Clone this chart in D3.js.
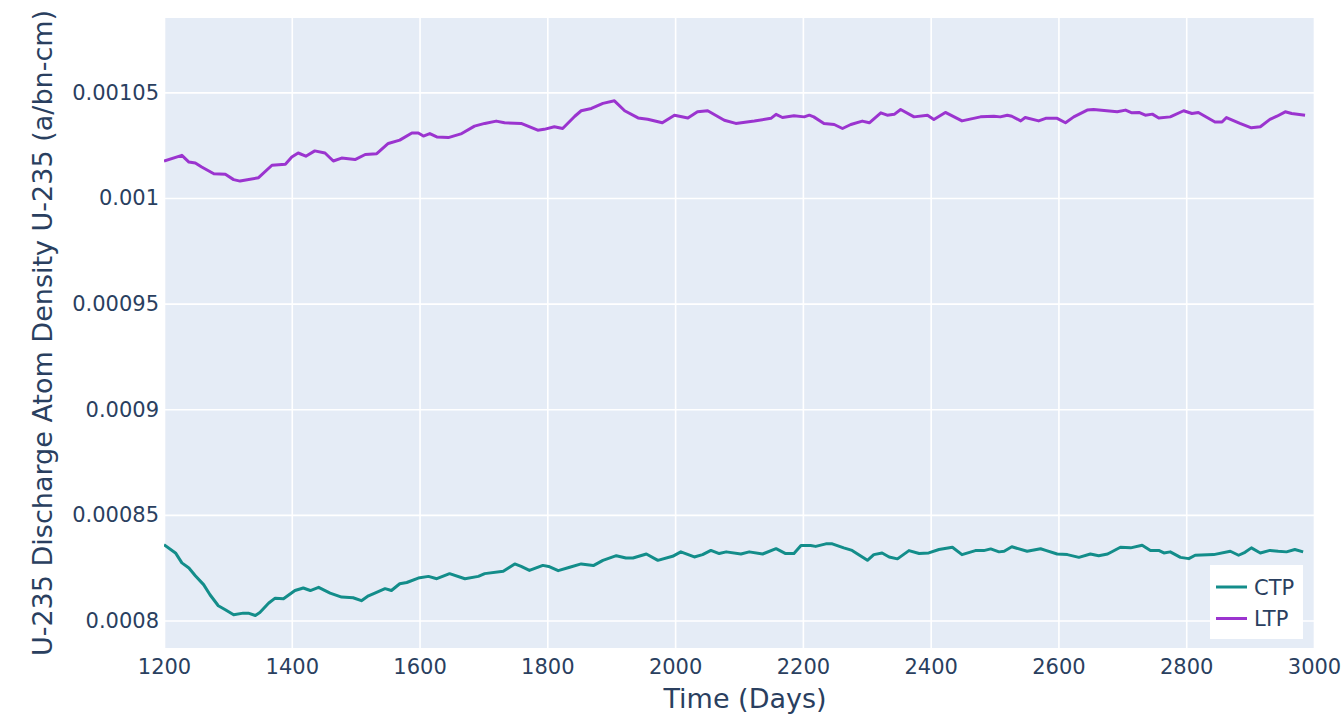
<!DOCTYPE html>
<html>
<head>
<meta charset="utf-8">
<script src="https://cdn.jsdelivr.net/npm/d3@7"></script>
<style>
  html, body { margin: 0; padding: 0; background: #fff; }
  svg { display: block; }
  svg text { font-family: "DejaVu Sans", Verdana, sans-serif; }
</style>
</head>
<body>
<svg id="chart" width="1344" height="714"></svg>
<script>
(function () {
    'use strict';

    // ── Data ──────────────────────────────────────────────────

    const ctpDays = [
        1200, 1218, 1228, 1239, 1249, 1262, 1272, 1285, 1296, 1309, 1324, 1332, 1343, 1350, 1364, 1374, 1387,
        1405, 1418, 1429, 1442, 1460, 1478, 1496, 1509, 1520, 1530, 1546, 1556, 1569, 1580, 1598, 1614, 1627,
        1647, 1671, 1692, 1702, 1731, 1749, 1759, 1772, 1793, 1802, 1817, 1835, 1853, 1872, 1887, 1908, 1923,
        1934, 1955, 1973, 1996, 2009, 2030, 2043, 2056, 2069, 2080, 2103, 2116, 2137, 2158, 2173, 2186, 2197,
        2212, 2220, 2236, 2246, 2264, 2277, 2301, 2311, 2324, 2335, 2348, 2366, 2382, 2397, 2413, 2434, 2449,
        2470, 2483, 2494, 2507, 2515, 2527, 2551, 2572, 2580, 2598, 2614, 2632, 2650, 2663, 2677, 2697, 2713,
        2731, 2744, 2757, 2765, 2775, 2791, 2804, 2814, 2843, 2869, 2882, 2892, 2902, 2916, 2931, 2944, 2957,
        2970, 2983
    ];
    const ctpValues = [
        0.0008359, 0.0008320, 0.0008273, 0.0008249, 0.0008212, 0.0008170, 0.0008122, 0.0008070, 0.0008051,
        0.0008027, 0.0008035, 0.0008035, 0.0008024, 0.0008038, 0.0008083, 0.0008106, 0.0008103, 0.0008142,
        0.0008154, 0.0008142, 0.0008157, 0.0008130, 0.0008111, 0.0008108, 0.0008094, 0.0008117, 0.0008130,
        0.0008151, 0.0008142, 0.0008174, 0.0008180, 0.0008201, 0.0008209, 0.0008198, 0.0008222, 0.0008198,
        0.0008209, 0.0008222, 0.0008233, 0.0008268, 0.0008256, 0.0008237, 0.0008261, 0.0008256, 0.0008236,
        0.0008252, 0.0008268, 0.0008260, 0.0008285, 0.0008307, 0.0008296, 0.0008296, 0.0008315, 0.0008285,
        0.0008304, 0.0008325, 0.0008301, 0.0008312, 0.0008332, 0.0008317, 0.0008325, 0.0008315, 0.0008325,
        0.0008315, 0.0008340, 0.0008317, 0.0008317, 0.0008355, 0.0008355, 0.0008351, 0.0008363, 0.0008363,
        0.0008344, 0.0008332, 0.0008285, 0.0008312, 0.0008320, 0.0008301, 0.0008292, 0.0008331, 0.0008317,
        0.0008320, 0.0008336, 0.0008347, 0.0008312, 0.0008331, 0.0008331, 0.0008339, 0.0008325, 0.0008328,
        0.0008349, 0.0008328, 0.0008340, 0.0008332, 0.0008315, 0.0008312, 0.0008299, 0.0008315, 0.0008307,
        0.0008315, 0.0008347, 0.0008344, 0.0008356, 0.0008331, 0.0008332, 0.0008320, 0.0008325, 0.0008299,
        0.0008293, 0.0008309, 0.0008312, 0.0008328, 0.0008309, 0.0008323, 0.0008344, 0.0008320, 0.0008332,
        0.0008328, 0.0008325, 0.0008336, 0.0008325
    ];

    const ltpDays = [
        1200, 1228, 1239, 1249, 1259, 1278, 1296, 1309, 1319, 1348, 1369, 1390, 1400, 1410, 1422, 1436, 1452,
        1465, 1478, 1499, 1515, 1533, 1551, 1569, 1588, 1598, 1606, 1616, 1627, 1645, 1666, 1686, 1702, 1720,
        1733, 1759, 1785, 1795, 1811, 1824, 1843, 1853, 1869, 1887, 1905, 1921, 1942, 1957, 1980, 1999, 2020,
        2035, 2051, 2077, 2095, 2124, 2150, 2158, 2168, 2186, 2202, 2210, 2217, 2233, 2249, 2262, 2275, 2293,
        2304, 2322, 2332, 2343, 2353, 2374, 2395, 2405, 2423, 2449, 2478, 2499, 2509, 2520, 2527, 2541, 2548,
        2569, 2580, 2598, 2611, 2624, 2645, 2655, 2692, 2705, 2715, 2726, 2736, 2747, 2757, 2775, 2796, 2809,
        2819, 2845, 2856, 2863, 2884, 2902, 2916, 2931, 2942, 2955, 2965, 2986
    ];
    const ltpValues = [
        0.0010175, 0.0010202, 0.0010170, 0.0010166, 0.0010147, 0.0010115, 0.0010112, 0.0010087, 0.0010080,
        0.0010096, 0.0010155, 0.0010160, 0.0010194, 0.0010213, 0.0010198, 0.0010223, 0.0010213, 0.0010175,
        0.0010189, 0.0010182, 0.0010206, 0.0010210, 0.0010258, 0.0010274, 0.0010308, 0.0010308, 0.0010293,
        0.0010305, 0.0010289, 0.0010286, 0.0010305, 0.0010340, 0.0010353, 0.0010364, 0.0010356, 0.0010353,
        0.0010321, 0.0010325, 0.0010337, 0.0010329, 0.0010387, 0.0010413, 0.0010424, 0.0010448, 0.0010460,
        0.0010413, 0.0010379, 0.0010373, 0.0010356, 0.0010392, 0.0010379, 0.0010408, 0.0010413, 0.0010368,
        0.0010353, 0.0010364, 0.0010377, 0.0010396, 0.0010381, 0.0010389, 0.0010384, 0.0010392, 0.0010384,
        0.0010353, 0.0010348, 0.0010329, 0.0010348, 0.0010364, 0.0010356, 0.0010403, 0.0010392, 0.0010396,
        0.0010419, 0.0010384, 0.0010392, 0.0010372, 0.0010405, 0.0010365, 0.0010384, 0.0010387, 0.0010384,
        0.0010392, 0.0010387, 0.0010365, 0.0010381, 0.0010365, 0.0010377, 0.0010377, 0.0010356, 0.0010384,
        0.0010416, 0.0010419, 0.0010408, 0.0010416, 0.0010403, 0.0010405, 0.0010392, 0.0010397, 0.0010379,
        0.0010384, 0.0010413, 0.0010400, 0.0010405, 0.0010360, 0.0010360, 0.0010381, 0.0010353, 0.0010332,
        0.0010337, 0.0010372, 0.0010387, 0.0010408, 0.0010400, 0.0010392
    ];

    const xTicks = [1200, 1400, 1600, 1800, 2000, 2200, 2400, 2600, 2800, 3000];
    const yTicks = [0.0008, 0.00085, 0.0009, 0.00095, 0.001, 0.00105];
    const yTickLabels = ['0.0008', '0.00085', '0.0009', '0.00095', '0.001', '0.00105'];

    const seriesNames = ['CTP', 'LTP'];

    // ── Look ─────────────────────────────────────────────────

    const FONT = '"DejaVu Sans", Verdana, sans-serif';

    const COLORS = {
        CTP:  '#138d8a',
        LTP:  '#9b34cf',
        bg:   '#e5ecf6',
        grid: '#ffffff',
        text: '#2a3f5f',
    };

    const PLOT = { left: 164, right: 1314, top: 18, bottom: 648 };

    // ── Render ───────────────────────────────────────────────

    const svg = d3.select('#chart');

    const x = d3.scaleLinear().domain([1200, 3000]).range([PLOT.left, PLOT.right]);
    const y = d3.scaleLinear().domain([0.000787, 0.0010852]).range([PLOT.bottom, PLOT.top]);

    svg.append('rect')
        .attr('x', PLOT.left)
        .attr('y', PLOT.top)
        .attr('width', PLOT.right - PLOT.left)
        .attr('height', PLOT.bottom - PLOT.top)
        .attr('fill', COLORS.bg);

    svg.append('defs').append('clipPath')
        .attr('id', 'plot-clip')
        .append('rect')
        .attr('x', PLOT.left)
        .attr('y', PLOT.top)
        .attr('width', PLOT.right - PLOT.left)
        .attr('height', PLOT.bottom - PLOT.top);

    // Gridlines + tick labels
    const xAxis = svg.append('g')
        .attr('transform', `translate(0,${PLOT.bottom})`)
        .call(d3.axisBottom(x).tickValues(xTicks).tickSize(-(PLOT.bottom - PLOT.top)).tickPadding(11).tickFormat(d3.format('d')));
    xAxis.attr('font-family', FONT);
    xAxis.select('.domain').remove();
    xAxis.selectAll('line').attr('stroke', COLORS.grid).attr('stroke-width', 1.6);
    xAxis.selectAll('text')
        .attr('fill', COLORS.text)
        .attr('font-size', '21px')
        .attr('dy', '0.71em');

    const yAxis = svg.append('g')
        .attr('transform', `translate(${PLOT.left},0)`)
        .call(d3.axisLeft(y).tickValues(yTicks).tickSize(-(PLOT.right - PLOT.left)).tickPadding(5)
            .tickFormat((d, i) => yTickLabels[i]));
    yAxis.attr('font-family', FONT);
    yAxis.select('.domain').remove();
    yAxis.selectAll('line').attr('stroke', COLORS.grid).attr('stroke-width', 1.6);
    yAxis.selectAll('text')
        .attr('fill', COLORS.text)
        .attr('font-size', '21px');

    // Lines
    const line = d3.line()
        .x(d => x(d[0]))
        .y(d => y(d[1]));

    const series = [
        { name: 'CTP', data: d3.zip(ctpDays, ctpValues) },
        { name: 'LTP', data: d3.zip(ltpDays, ltpValues) },
    ];

    svg.append('g')
        .attr('clip-path', 'url(#plot-clip)')
        .selectAll('path')
        .data(series)
        .join('path')
        .attr('fill', 'none')
        .attr('stroke', d => COLORS[d.name])
        .attr('stroke-width', 3)
        .attr('stroke-linejoin', 'round')
        .attr('d', d => line(d.data));

    // Axis titles
    svg.append('text')
        .attr('x', 745)
        .attr('y', 708)
        .attr('text-anchor', 'middle')
        .attr('font-size', '27px')
        .attr('fill', COLORS.text)
        .text('Time (Days)');

    svg.append('text')
        .attr('transform', `translate(52,333) rotate(-90)`)
        .attr('text-anchor', 'middle')
        .attr('font-size', '27px')
        .attr('fill', COLORS.text)
        .text('U-235 Discharge Atom Density U-235 (a/bn-cm)');

    // Legend
    const legend = svg.append('g').attr('transform', 'translate(1210,565)');
    legend.append('rect')
        .attr('width', 93)
        .attr('height', 74)
        .attr('fill', '#ffffff');

    const item = legend.selectAll('.item')
        .data(seriesNames)
        .join('g')
        .attr('class', 'item')
        .attr('transform', (d, i) => `translate(0,${22 + i * 31.5})`);
    item.append('line')
        .attr('x1', 6).attr('x2', 37)
        .attr('stroke', d => COLORS[d])
        .attr('stroke-width', 3);
    item.append('text')
        .attr('x', 44)
        .attr('dy', '0.36em')
        .attr('font-size', '21px')
        .attr('fill', COLORS.text)
        .text(d => d);
})();
</script>
</body>
</html>
